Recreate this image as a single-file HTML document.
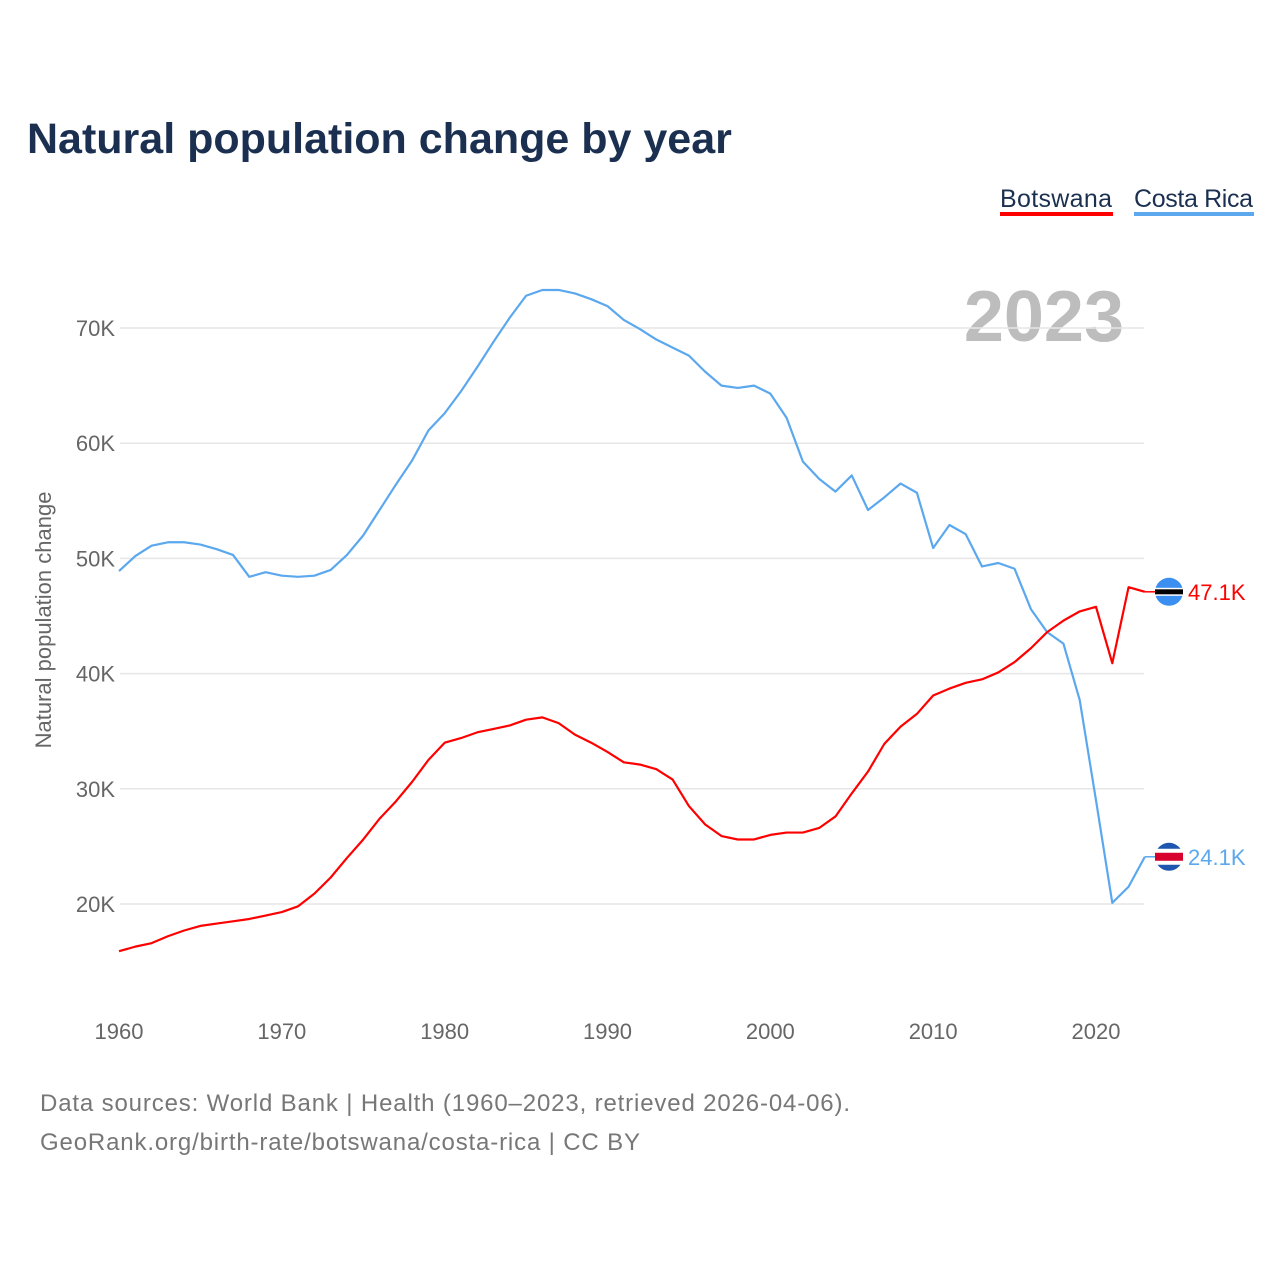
<!DOCTYPE html>
<html><head><meta charset="utf-8"><style>
body{margin:0;background:#fff;font-family:"Liberation Sans",sans-serif;}
svg text{font-family:"Liberation Sans",sans-serif;}
</style></head><body>
<svg id="c" width="1280" height="1280" xmlns="http://www.w3.org/2000/svg">
<text x="27" y="153" font-size="43" font-weight="bold" fill="#1b3050">Natural population change by year</text>
<g><text x="1000" y="207" font-size="25" fill="#1b3050" textLength="112">Botswana</text><rect x="1000" y="212" width="113" height="4" fill="#ff0000"/></g>
<g><text x="1134" y="207" font-size="25" fill="#1b3050" textLength="119">Costa Rica</text><rect x="1134" y="212" width="120" height="4" fill="#5ba8ee"/></g>
<text x="1124" y="341" font-size="72" font-weight="bold" fill="#bdbdbd" text-anchor="end">2023</text>
<text transform="translate(51,620) rotate(-90)" font-size="22" fill="#666" text-anchor="middle">Natural population change</text>
<g id="grid"></g><g id="lines"></g><g id="ends"></g>
<text x="40" y="1111" font-size="24" fill="#777" textLength="810">Data sources: World Bank | Health (1960–2023, retrieved 2026-04-06).</text>
<text x="40" y="1150" font-size="24" fill="#777" textLength="600">GeoRank.org/birth-rate/botswana/costa-rica | CC BY</text>
</svg>
<script>
const years=[];for(let y=1960;y<=2023;y++)years.push(y);
const yTicks=[20,30,40,50,60,70];
const xTicks=[1960,1970,1980,1990,2000,2010,2020];
const costaRica=[48.9,50.2,51.1,51.4,51.4,51.2,50.8,50.3,48.4,48.8,48.5,48.4,48.5,49.0,50.3,52.0,54.2,56.4,58.5,61.1,62.6,64.5,66.6,68.8,70.9,72.8,73.3,73.3,73.0,72.5,71.9,70.7,69.9,69.0,68.3,67.6,66.2,65.0,64.8,65.0,64.3,62.2,58.4,56.9,55.8,57.2,54.2,55.3,56.5,55.7,50.9,52.9,52.1,49.3,49.6,49.1,45.6,43.6,42.6,37.7,29.0,20.1,21.5,24.1];
const botswana=[15.9,16.3,16.6,17.2,17.7,18.1,18.3,18.5,18.7,19.0,19.3,19.8,20.9,22.3,24.0,25.6,27.4,28.9,30.6,32.5,34.0,34.4,34.9,35.2,35.5,36.0,36.2,35.7,34.7,34.0,33.2,32.3,32.1,31.7,30.8,28.5,26.9,25.9,25.6,25.6,26.0,26.2,26.2,26.6,27.6,29.6,31.5,33.9,35.4,36.5,38.1,38.7,39.2,39.5,40.1,41.0,42.2,43.6,44.6,45.4,45.8,40.9,47.5,47.1];
const X=y=>119+(y-1960)*(1096-119)/60;
const Y=v=>904-(v-20)*11.52;
const NS="http://www.w3.org/2000/svg";
function mk(t,a,p){const e=document.createElementNS(NS,t);for(const k in a)e.setAttribute(k,a[k]);p.appendChild(e);return e;}
const g=document.getElementById('grid');
yTicks.forEach(v=>{
 const l=mk('line',{x1:120,x2:1144,y1:Y(v),y2:Y(v),stroke:'#e6e6e6','stroke-width':1.5},g);
 
 
 const t=mk('text',{x:115,y:Y(v)+8,'font-size':22,fill:'#666','text-anchor':'end'},g);t.textContent=v+'K';
 
 
});
xTicks.forEach(v=>{
 const t=mk('text',{x:X(v),y:1039,'font-size':22,fill:'#666','text-anchor':'middle'},g);t.textContent=v;
 
 
});
const L=document.getElementById('lines');
function line(data,col,name){
 const p=mk('polyline',{points:data.map((v,i)=>X(years[i])+','+Y(v)).join(' '),fill:'none',stroke:col,'stroke-width':2.2,'stroke-linejoin':'round'},L);
 
 
}
line(costaRica,'#5ba8ee','line-costa-rica');
line(botswana,'#ff0000','line-botswana');
const E=document.getElementById('ends');
function end(data,col,name,flag){
 const v=data[data.length-1],y=Y(v),x=X(2023);
 mk('line',{x1:x,x2:1155,y1:y,y2:y,stroke:col,'stroke-width':1.5},E);
 const gg=mk('g',{},E);
 
 
 flag(gg,1169,y);
 const t=mk('text',{x:1188,y:y+8,'font-size':22,fill:col},E);t.textContent=v.toFixed(1)+'K';
 
 
}
end(botswana,'#ff0000','botswana',(gg,cx,cy)=>{
 mk('circle',{cx,cy,r:14,fill:'#3b8ff0'},gg);
 mk('rect',{x:cx-14,y:cy-4,width:28,height:8,fill:'#fff'},gg);
 mk('rect',{x:cx-14,y:cy-2.5,width:28,height:5,fill:'#000'},gg);
});
end(costaRica,'#5ba8ee','costa-rica',(gg,cx,cy)=>{
 mk('circle',{cx,cy,r:14,fill:'#1f57b0'},gg);
 mk('rect',{x:cx-14,y:cy-8,width:28,height:16,fill:'#fff'},gg);
 mk('rect',{x:cx-14,y:cy-4,width:28,height:8,fill:'#d8002c'},gg);
});
</script>
</body></html>
